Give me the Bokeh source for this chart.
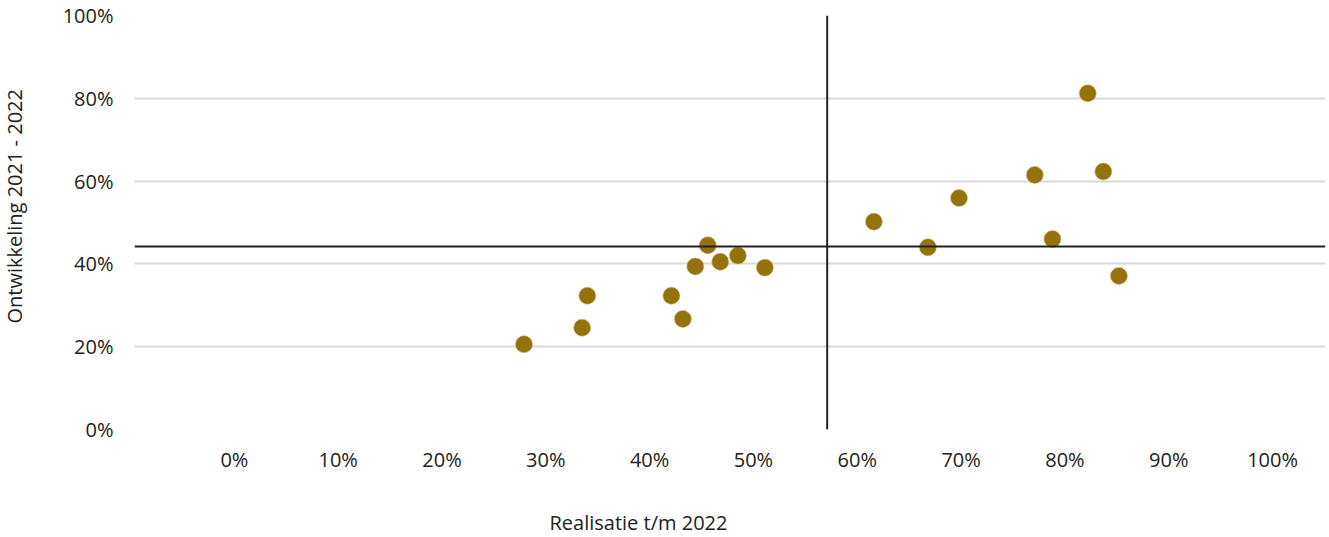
from bokeh.plotting import figure
from bokeh.models import Range1d, FixedTicker, Span, ColumnDataSource, LinearAxis, Title
from bokeh.embed import file_html
from bokeh.resources import INLINE

# Data (fractions)
realisatie = [0.279, 0.335, 0.340, 0.421, 0.432, 0.444, 0.456, 0.468, 0.485, 0.511,
              0.616, 0.668, 0.698, 0.771, 0.788, 0.822, 0.837, 0.852]
ontwikkeling = [0.206, 0.246, 0.323, 0.323, 0.267, 0.394, 0.445, 0.405, 0.420, 0.391,
                0.502, 0.440, 0.559, 0.615, 0.460, 0.812, 0.623, 0.371]
x_ticks = [0, 0.1, 0.2, 0.3, 0.4, 0.5, 0.6, 0.7, 0.8, 0.9, 1.0]
y_ticks = [0, 0.2, 0.4, 0.6, 0.8, 1.0]
x_ref = 0.571
y_ref = 0.442

FONT = "Open Sans"
TXT = "#222222"
FS = "20px"

p = figure(width=1329, height=537, output_backend="svg", toolbar_location=None,
           x_range=Range1d(-0.0962, 1.051), y_range=Range1d(0, 1),
           min_border_left=133, min_border_right=4, min_border_top=15, min_border_bottom=108)
p.outline_line_color = None
p.background_fill_color = "white"
p.border_fill_color = "white"

for ax in (p.xaxis[0], p.yaxis[0]):
    ax.axis_line_color = None
    ax.major_tick_line_color = None
    ax.minor_tick_line_color = None
    ax.major_tick_out = 0
    ax.major_tick_in = 0
    ax.minor_tick_out = 0
    ax.minor_tick_in = 0
    ax.major_label_text_font = FONT
    ax.major_label_text_font_size = FS
    ax.major_label_text_color = TXT

p.xaxis[0].ticker = FixedTicker(ticks=x_ticks)
p.yaxis[0].ticker = FixedTicker(ticks=y_ticks)
p.xaxis[0].major_label_overrides = {t: f"{round(t*100)}%" for t in x_ticks}
p.yaxis[0].major_label_overrides = {t: f"{round(t*100)}%" for t in y_ticks}
p.xaxis[0].major_label_standoff = 16
p.yaxis[0].major_label_standoff = 21

p.xgrid.grid_line_color = None
p.ygrid.grid_line_color = "#d9d9d9"
p.ygrid.grid_line_width = 2

# invisible spacer axes (white ticks, no labels) to position the axis titles
for side, gap, tick in (("below", 33, -0.05), ("left", 30, 0.5)):
    sp = LinearAxis(ticker=FixedTicker(ticks=[tick]), axis_line_color=None,
                    major_tick_line_color="white", major_tick_line_alpha=1.0,
                    minor_tick_line_color=None,
                    major_tick_out=gap, major_tick_in=0, minor_tick_out=0, minor_tick_in=0,
                    major_label_standoff=0, major_label_text_color=None)
    p.add_layout(sp, side)

p.add_layout(Title(text="Realisatie t/m 2022", align="left", offset=415,
                   vertical_align="top", standoff=0, text_font=FONT,
                   text_font_size=FS, text_font_style="normal", text_color=TXT), "below")
p.add_layout(Title(text="Ontwikkeling 2021 - 2022", align="left", offset=106,
                   vertical_align="top", standoff=0, text_font=FONT,
                   text_font_size=FS, text_font_style="normal", text_color=TXT), "left")

# reference lines
p.add_layout(Span(location=y_ref, dimension="width", line_color="#222222", line_width=2))
p.add_layout(Span(location=x_ref, dimension="height", line_color="#222222", line_width=2))

src = ColumnDataSource(data=dict(x=realisatie, y=ontwikkeling))
p.scatter("x", "y", source=src, size=17, fill_color="#94720c", line_color="#c9b47a",
          line_width=0.6)

open("out.html", "w").write(file_html(p, INLINE))
